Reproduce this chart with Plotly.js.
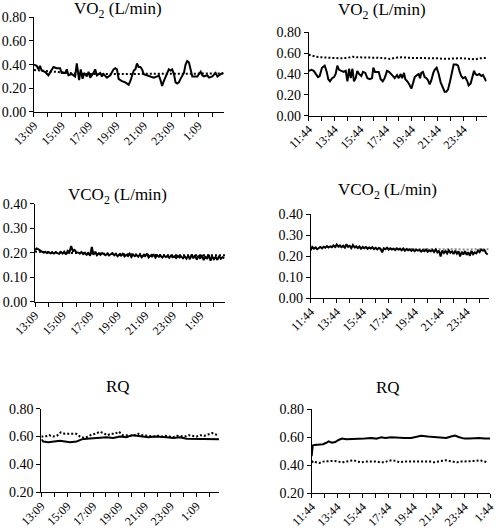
<!DOCTYPE html>
<html>
<head>
<meta charset="utf-8">
<script src="https://cdn.plot.ly/plotly-3.0.1.min.js"></script>
<style>html,body{margin:0;padding:0;background:#fff;}#chart{width:496px;height:530px;}</style>
</head>
<body>
<div id="chart"></div>
<script>
// ---------- tick labels ----------
const labelsLeft = ['13:09','15:09','17:09','19:09','21:09','23:09','1:09'];
const labelsRight = ['11:44','13:44','15:44','17:44','19:44','21:44','23:44','1:44'];

// ---------- Panel 1: VO2 left (hours since 13:09) ----------
const vo2L_t = [0,0.2,0.32,0.44,0.56,0.8,1.05,1.29,1.42,1.66,1.9,2.02,2.27,2.39,2.51,2.76,3.0,3.12,3.29,3.41,3.54,3.66,3.85,3.98,4.1,4.34,4.46,4.59,4.83,4.95,5.07,5.32,5.56,5.8,5.93,6.05,6.17,6.41,6.66,6.9,7.02,7.27,7.39,7.51,7.63,7.76,7.88,8.0,8.24,8.49,8.73,8.98,9.1,9.22,9.34,9.46,9.59,9.71,9.83,9.95,10.07,10.2,10.32,10.44,10.56,10.68,10.8,10.93,11.05,11.17,11.29,11.41,11.54,11.66,11.9,12.15,12.27,12.39,12.63,12.76,13.0,13.24,13.37,13.61,13.8];
const vo2L_solid = [0.40,0.39,0.36,0.39,0.35,0.34,0.31,0.36,0.38,0.37,0.37,0.33,0.33,0.36,0.31,0.32,0.30,0.41,0.27,0.36,0.28,0.33,0.30,0.34,0.29,0.33,0.36,0.31,0.33,0.30,0.32,0.29,0.31,0.36,0.37,0.36,0.28,0.26,0.25,0.23,0.26,0.35,0.36,0.41,0.38,0.38,0.36,0.32,0.31,0.30,0.29,0.30,0.31,0.27,0.22,0.26,0.30,0.34,0.36,0.35,0.36,0.32,0.25,0.24,0.25,0.28,0.30,0.33,0.40,0.43,0.42,0.35,0.30,0.30,0.30,0.34,0.31,0.30,0.31,0.29,0.30,0.33,0.30,0.32,0.33];
const vo2L_dt = [0,0.5,1,1.5,2,3,4,5,6,7,8,9,10,11,12,13,13.8];
const vo2L_dotted = [0.355,0.35,0.34,0.335,0.33,0.325,0.32,0.32,0.32,0.32,0.32,0.32,0.32,0.32,0.32,0.325,0.325];

// ---------- Panel 2: VO2 right (hours since 11:44) ----------
const vo2R_t = [0,0.21,0.39,0.59,0.72,0.85,1.03,1.24,1.40,1.52,1.65,1.81,1.96,2.09,2.22,2.35,2.53,2.71,2.87,3.00,3.13,3.26,3.39,3.51,3.64,3.77,3.90,4.08,4.21,4.39,4.55,4.75,4.91,5.01,5.14,5.27,5.43,5.58,5.74,5.89,6.07,6.23,6.41,6.54,6.67,6.85,6.98,7.13,7.24,7.39,7.49,7.65,7.80,7.96,8.06,8.22,8.40,8.53,8.63,8.73,8.86,8.99,9.12,9.25,9.38,9.51,9.66,9.77,9.92,10.08,10.23,10.41,10.54,10.67,10.80,10.96,11.11,11.24,11.45,11.58,11.71,11.83,11.96,12.14,12.30,12.40,12.56,12.69,12.82,12.92,13.07,13.23,13.39,13.51,13.66,13.76];
const vo2R_solid = [0.43,0.44,0.43,0.40,0.37,0.38,0.46,0.48,0.42,0.35,0.33,0.36,0.37,0.40,0.48,0.44,0.43,0.42,0.43,0.33,0.45,0.36,0.45,0.33,0.36,0.43,0.40,0.38,0.42,0.41,0.36,0.35,0.36,0.46,0.42,0.42,0.42,0.35,0.33,0.36,0.43,0.42,0.40,0.38,0.36,0.39,0.36,0.40,0.36,0.41,0.35,0.33,0.30,0.26,0.30,0.37,0.39,0.40,0.36,0.41,0.42,0.37,0.36,0.34,0.30,0.34,0.41,0.44,0.46,0.40,0.32,0.26,0.23,0.23,0.25,0.33,0.43,0.49,0.49,0.48,0.42,0.38,0.36,0.37,0.33,0.29,0.31,0.37,0.43,0.40,0.39,0.40,0.38,0.39,0.36,0.33];
const vo2R_dt = [0,0.3,0.6,1.0,1.5,2.0,2.5,3.0,3.4,3.8,4.5,5.0,5.5,6.0,6.3,6.7,7.2,7.8,8.5,9.0,9.5,10.0,10.5,11.0,11.5,12.0,12.5,12.9,13.3,13.8];
const vo2R_dotted = [0.585,0.575,0.565,0.56,0.555,0.555,0.55,0.555,0.565,0.56,0.56,0.555,0.555,0.55,0.545,0.555,0.56,0.555,0.555,0.55,0.555,0.55,0.545,0.55,0.55,0.55,0.545,0.54,0.55,0.555];

// ---------- Panel 3: VCO2 left (sampled every 7.5 min) ----------
const sampleHours = 0.125;
const vco2L_solid = [0.212,0.218,0.214,0.208,0.205,0.201,0.204,0.199,0.203,0.198,0.201,0.197,0.203,0.199,0.196,0.204,0.197,0.205,0.193,0.208,0.202,0.228,0.206,0.212,0.203,0.201,0.198,0.203,0.195,0.201,0.192,0.199,0.188,0.224,0.192,0.205,0.190,0.198,0.192,0.199,0.195,0.190,0.197,0.189,0.194,0.199,0.190,0.196,0.186,0.193,0.188,0.196,0.185,0.192,0.187,0.197,0.183,0.193,0.186,0.191,0.184,0.194,0.182,0.190,0.186,0.197,0.181,0.189,0.185,0.192,0.180,0.190,0.184,0.188,0.181,0.189,0.183,0.187,0.180,0.188,0.182,0.186,0.179,0.187,0.181,0.185,0.178,0.186,0.176,0.188,0.174,0.193,0.178,0.190,0.172,0.189,0.176,0.191,0.170,0.186,0.175,0.192,0.168,0.185,0.174,0.183,0.171,0.187,0.176,0.182,0.179];
const vco2L_dt = [0,1,2,3,4,5,6,7,8,9,10,11,12,13,13.8];
const vco2L_dotted = [0.205,0.202,0.200,0.199,0.198,0.196,0.194,0.193,0.192,0.191,0.190,0.190,0.190,0.191,0.190];

// ---------- Panel 4: VCO2 right (sampled every 7.5 min) ----------
const vco2R_solid = [0.228,0.244,0.236,0.241,0.233,0.239,0.244,0.237,0.245,0.240,0.248,0.241,0.247,0.243,0.251,0.244,0.256,0.246,0.252,0.243,0.250,0.241,0.257,0.245,0.249,0.238,0.253,0.242,0.247,0.239,0.246,0.236,0.244,0.238,0.243,0.235,0.241,0.236,0.243,0.234,0.240,0.232,0.239,0.235,0.218,0.237,0.233,0.240,0.231,0.238,0.232,0.236,0.229,0.237,0.231,0.235,0.228,0.236,0.226,0.234,0.228,0.233,0.225,0.232,0.224,0.231,0.226,0.230,0.222,0.229,0.224,0.232,0.221,0.228,0.223,0.230,0.220,0.232,0.218,0.226,0.198,0.227,0.215,0.225,0.213,0.228,0.216,0.222,0.210,0.226,0.212,0.223,0.199,0.221,0.208,0.224,0.206,0.219,0.202,0.225,0.209,0.218,0.213,0.227,0.219,0.232,0.226,0.229,0.214,0.208];
const vco2R_dt = [0,1,2,3,4,5,6,7,8,9,10,11,12,13,13.7];
const vco2R_dotted = [0.242,0.245,0.245,0.243,0.240,0.238,0.236,0.235,0.234,0.233,0.232,0.232,0.232,0.233,0.233];

// ---------- Panel 5: RQ left ----------
const rqL_t = [0,0.15,0.54,1.06,1.44,1.83,2.22,2.73,3.12,3.51,4.02,4.54,5.05,5.57,6.08,6.6,6.98,7.37,7.76,8.27,8.79,9.3,9.69,10.21,10.72,11.24,11.75,12.27,12.78,13.3,13.74];
const rqL_solid = [0.58,0.565,0.56,0.565,0.57,0.565,0.56,0.565,0.58,0.585,0.59,0.595,0.595,0.59,0.60,0.595,0.61,0.605,0.60,0.595,0.60,0.60,0.595,0.59,0.595,0.585,0.585,0.585,0.585,0.58,0.58];
const rqL_dt = [0,0.3,0.6,0.9,1.2,1.5,1.8,2.1,2.4,2.7,3.0,3.3,3.6,3.9,4.2,4.5,4.8,5.1,5.4,5.7,6.0,6.3,6.6,6.9,7.2,7.5,7.8,8.1,8.4,8.7,9.0,9.3,9.6,9.9,10.2,10.5,10.8,11.1,11.4,11.7,12.0,12.3,12.6,12.9,13.2,13.5,13.74];
const rqL_dotted = [0.60,0.60,0.61,0.60,0.605,0.63,0.62,0.62,0.615,0.62,0.60,0.59,0.60,0.615,0.62,0.635,0.625,0.61,0.62,0.62,0.635,0.61,0.61,0.605,0.61,0.62,0.61,0.605,0.60,0.60,0.605,0.60,0.605,0.60,0.595,0.605,0.60,0.60,0.61,0.605,0.60,0.61,0.605,0.615,0.625,0.615,0.61];

// ---------- Panel 6: RQ right ----------
const rqR_t = [0,0.08,0.23,0.63,0.89,1.15,1.33,1.59,1.85,2.11,2.38,2.72,3.11,3.63,4.15,4.67,5.07,5.46,5.77,6.24,6.76,7.28,7.81,8.2,8.59,9.11,9.63,10.16,10.55,10.94,11.25,11.59,11.98,12.38,12.77,13.16,13.55,14.0];
const rqR_solid = [0.465,0.54,0.545,0.545,0.55,0.56,0.57,0.56,0.565,0.58,0.59,0.585,0.585,0.59,0.59,0.595,0.59,0.60,0.595,0.60,0.595,0.595,0.595,0.60,0.61,0.605,0.60,0.60,0.595,0.605,0.612,0.60,0.59,0.59,0.595,0.595,0.59,0.59];
const rqR_dt = [0,0.15,0.35,0.6,0.9,1.2,1.5,1.8,2.1,2.4,2.7,3.0,3.3,3.6,3.9,4.2,4.5,4.8,5.1,5.4,5.7,6.0,6.3,6.6,6.9,7.2,7.5,7.8,8.1,8.4,8.7,9.0,9.3,9.6,9.9,10.2,10.5,10.8,11.1,11.4,11.7,12.0,12.3,12.6,12.9,13.2,13.5,13.8];
const rqR_dotted = [0.42,0.43,0.42,0.415,0.425,0.43,0.43,0.43,0.425,0.42,0.425,0.43,0.435,0.425,0.42,0.425,0.425,0.43,0.425,0.42,0.42,0.43,0.435,0.43,0.42,0.425,0.425,0.43,0.425,0.425,0.425,0.425,0.425,0.42,0.425,0.43,0.435,0.43,0.425,0.42,0.425,0.425,0.425,0.425,0.43,0.435,0.43,0.42];

// ---------- build ----------
const FONT = 'Liberation Serif';
const sampleTimes = (arr) => arr.map((_, i) => i * sampleHours);

function hourTicks(nHours, labels) {
  const vals = [], text = [];
  for (let h = 0; h <= nHours; h++) {
    vals.push(h);
    text.push(h % 2 === 0 ? (labels[h / 2] || ' ') : ' ');
  }
  return {vals, text};
}

function solid(x, y, xa, ya) {
  return {x, y, xaxis: xa, yaxis: ya, type: 'scatter', mode: 'lines',
          line: {color: '#000', width: 2}, hoverinfo: 'skip', cliponaxis: false};
}
function dotted(x, y, xa, ya, color) {
  return {x, y, xaxis: xa, yaxis: ya, type: 'scatter', mode: 'lines',
          line: {color: color || '#000', width: 2, dash: '2px,2px'}, hoverinfo: 'skip', cliponaxis: false};
}

const data = [
  dotted(vo2L_dt, vo2L_dotted, 'x', 'y'),
  solid(vo2L_t, vo2L_solid, 'x', 'y'),
  dotted(vo2R_dt, vo2R_dotted, 'x2', 'y2'),
  solid(vo2R_t, vo2R_solid, 'x2', 'y2'),
  dotted(vco2L_dt, vco2L_dotted, 'x3', 'y3'),
  solid(sampleTimes(vco2L_solid), vco2L_solid, 'x3', 'y3'),
  dotted(vco2R_dt, vco2R_dotted, 'x4', 'y4', '#888'),
  solid(sampleTimes(vco2R_solid), vco2R_solid, 'x4', 'y4'),
  dotted(rqL_dt, rqL_dotted, 'x5', 'y5'),
  solid(rqL_t, rqL_solid, 'x5', 'y5'),
  dotted(rqR_dt, rqR_dotted, 'x6', 'y6'),
  solid(rqR_t, rqR_solid, 'x6', 'y6')
];

function xax(domain, range, nHours, labels, anchor) {
  const t = hourTicks(nHours, labels);
  return {domain, range, anchor, tickmode: 'array', tickvals: t.vals, ticktext: t.text,
    tickangle: -45, ticks: 'outside', ticklen: 4, tickcolor: '#000', tickwidth: 1,
    ticklabelstandoff: -3, ticklabeloverflow: 'allow',
    showline: true, linecolor: '#000', linewidth: 1, showgrid: false, zeroline: false,
    tickfont: {family: FONT, size: 12, color: '#000'}, fixedrange: true};
}
function yax(domain, range, dtick, anchor) {
  return {domain, range, anchor, tickmode: 'linear', tick0: range[0], dtick, tickformat: '.2f',
    ticks: 'outside', ticklen: 4, tickcolor: '#000', tickwidth: 1,
    showline: true, linecolor: '#000', linewidth: 1, showgrid: false, zeroline: false,
    ticklabeloverflow: 'allow',
    tickfont: {family: FONT, size: 14, color: '#000'}, fixedrange: true};
}

function title(text, x, y) {
  return {text, x, y, xref: 'paper', yref: 'paper', xanchor: 'center', yanchor: 'middle',
          showarrow: false, font: {family: FONT, size: 17, color: '#000'}};
}

const layout = {
  width: 496, height: 530,
  margin: {l: 0, r: 0, t: 0, b: 0},
  font: {family: FONT, color: '#000'},
  paper_bgcolor: '#fff', plot_bgcolor: '#fff',
  showlegend: false,
  xaxis:  xax([0.0685, 0.4516], [0, 13.85], 13, labelsLeft, 'y'),
  yaxis:  yax([0.7887, 0.9674], [0, 0.8], 0.2, 'x'),
  xaxis2: xax([0.6224, 0.9812], [0, 13.8], 13, labelsRight, 'y2'),
  yaxis2: yax([0.7817, 0.9391], [0, 0.8], 0.2, 'x2'),
  xaxis3: xax([0.0706, 0.4536], [0, 13.8], 13, labelsLeft, 'y3'),
  yaxis3: yax([0.4308, 0.6151], [0, 0.4], 0.1, 'x3'),
  xaxis4: xax([0.6264, 0.9853], [0, 13.7], 13, labelsRight, 'y4'),
  yaxis4: yax([0.4377, 0.5957], [0, 0.4], 0.1, 'x4'),
  xaxis5: xax([0.0833, 0.4415], [0, 13.74], 13, labelsLeft, 'y5'),
  yaxis5: yax([0.0711, 0.2289], [0.2, 0.8], 0.2, 'x5'),
  xaxis6: xax([0.6284, 0.9885], [0, 14.02], 14, labelsRight, 'y6'),
  yaxis6: yax([0.0698, 0.2277], [0.2, 0.8], 0.2, 'x6'),
  annotations: [
    title('VO<sub>2</sub> (L/min)', 0.238, 0.981),
    title('VO<sub>2</sub> (L/min)', 0.770, 0.979),
    title('VCO<sub>2</sub> (L/min)', 0.237, 0.630),
    title('VCO<sub>2</sub> (L/min)', 0.782, 0.639),
    title('RQ', 0.238, 0.270),
    title('RQ', 0.783, 0.269)
  ]
};

Plotly.newPlot('chart', data, layout, {staticPlot: true, displayModeBar: false});
</script>
</body>
</html>
